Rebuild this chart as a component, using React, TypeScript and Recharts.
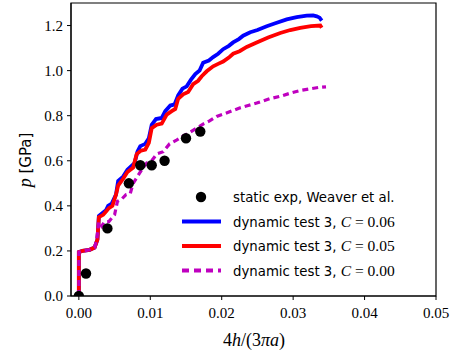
import { ComposedChart, Line, Scatter, XAxis, YAxis, ReferenceArea } from "recharts";

const xTicks = [0, 0.01, 0.02, 0.03, 0.04, 0.05];
const yTicks = [0, 0.2, 0.4, 0.6, 0.8, 1.0, 1.2];

const staticX = [0, 0.001, 0.004, 0.007, 0.0086, 0.0102, 0.012, 0.015, 0.017];
const staticY = [0, 0.1, 0.3, 0.5, 0.58, 0.58, 0.6, 0.7, 0.73];

const c006X = [0, 0, 0.0005, 0.0015, 0.0022, 0.0026, 0.0028, 0.0034, 0.0038, 0.0041, 0.0046, 0.0052, 0.0055, 0.0062, 0.0068, 0.0078, 0.0082, 0.0086, 0.0093, 0.0098, 0.0102, 0.0108, 0.0116, 0.0121, 0.0128, 0.0134, 0.0139, 0.0145, 0.0151, 0.0157, 0.0163, 0.0169, 0.0174, 0.0182, 0.0188, 0.0195, 0.0202, 0.021, 0.0216, 0.0224, 0.023, 0.024, 0.025, 0.0263, 0.0275, 0.0291, 0.0305, 0.0319, 0.0328, 0.0333, 0.0337, 0.034];
const c006Y = [0, 0.195, 0.2, 0.205, 0.215, 0.25, 0.355, 0.37, 0.38, 0.4, 0.41, 0.45, 0.51, 0.53, 0.56, 0.59, 0.64, 0.665, 0.675, 0.7, 0.76, 0.785, 0.79, 0.82, 0.845, 0.85, 0.89, 0.92, 0.93, 0.96, 0.985, 1.0, 1.035, 1.045, 1.06, 1.075, 1.095, 1.11, 1.125, 1.14, 1.155, 1.17, 1.18, 1.197, 1.21, 1.227, 1.237, 1.244, 1.245, 1.241, 1.235, 1.222];

const c005X = [0, 0, 0.0005, 0.0015, 0.0022, 0.0026, 0.0028, 0.0034, 0.0038, 0.0042, 0.0047, 0.0052, 0.0055, 0.0062, 0.0068, 0.0076, 0.0081, 0.0087, 0.0093, 0.0098, 0.0102, 0.0109, 0.0116, 0.0123, 0.013, 0.0135, 0.0139, 0.0146, 0.0153, 0.016, 0.0167, 0.0172, 0.0179, 0.0188, 0.0195, 0.0202, 0.021, 0.0216, 0.0225, 0.0235, 0.0249, 0.0265, 0.0282, 0.0296, 0.031, 0.0325, 0.0338, 0.034];
const c005Y = [0, 0.195, 0.2, 0.205, 0.215, 0.25, 0.35, 0.36, 0.375, 0.39, 0.4, 0.45, 0.49, 0.52, 0.55, 0.57, 0.63, 0.645, 0.65, 0.68, 0.745, 0.76, 0.765, 0.805, 0.82, 0.83, 0.875, 0.895, 0.905, 0.94, 0.955, 0.975, 0.997, 1.019, 1.03, 1.04, 1.058, 1.075, 1.086, 1.105, 1.125, 1.147, 1.167, 1.18, 1.19, 1.197, 1.2, 1.19];

const c000X = [0, 0, 0.0005, 0.0015, 0.0022, 0.0025, 0.0028, 0.0032, 0.0036, 0.0042, 0.0046, 0.005, 0.0054, 0.006, 0.0066, 0.0072, 0.0076, 0.0082, 0.0088, 0.0095, 0.0102, 0.0109, 0.0118, 0.0127, 0.0136, 0.0146, 0.0155, 0.0165, 0.0175, 0.0183, 0.0193, 0.0205, 0.0215, 0.0225, 0.0237, 0.0249, 0.0267, 0.0282, 0.0298, 0.031, 0.0325, 0.0335, 0.0346];
const c000Y = [0, 0.195, 0.2, 0.205, 0.215, 0.25, 0.33, 0.31, 0.33, 0.33, 0.345, 0.36, 0.42, 0.43, 0.45, 0.455, 0.5, 0.53, 0.56, 0.59, 0.6, 0.63, 0.64, 0.675, 0.69, 0.71, 0.725, 0.745, 0.765, 0.777, 0.797, 0.81, 0.822, 0.834, 0.845, 0.856, 0.875, 0.886, 0.902, 0.912, 0.92, 0.925, 0.928];

const zip = (xs: number[], ys: number[]) => xs.map((x, i) => ({ x, y: ys[i] }));

const staticData = zip(staticX, staticY);
const c006Data = zip(c006X, c006Y);
const c005Data = zip(c005X, c005Y);
const c000Data = zip(c000X, c000Y);

const serif = "'Liberation Serif', serif";
const sans = "'DejaVu Sans', sans-serif";

const legendRows = [
  { kind: "dot", color: "#000", text: "static exp, Weaver et al.", c: "" },
  { kind: "line", color: "#0000ff", text: "dynamic test 3, ", c: "0.06" },
  { kind: "line", color: "#ff0000", text: "dynamic test 3, ", c: "0.05" },
  { kind: "dash", color: "#bf00bf", text: "dynamic test 3, ", c: "0.00" },
];

function LegendBox() {
  return (
    <svg width={250} height={100} style={{ position: "absolute", left: 180, top: 185 }}>
      {legendRows.map((r, i) => {
        const cy = 12 + i * 24.5;
        return (
          <g key={i}>
            {r.kind === "dot" && <circle cx={21} cy={cy} r={5.2} fill={r.color} />}
            {r.kind !== "dot" && (
              <line x1={2} x2={41} y1={cy} y2={cy} stroke={r.color} strokeWidth={3.8}
                strokeDasharray={r.kind === "dash" ? "7 5" : undefined} />
            )}
            <text x={53} y={cy + 5} fontFamily={sans} fontSize={13.3} fill="#000">
              {r.text}
              {r.c && (
                <>
                  <tspan fontFamily={serif} fontStyle="italic" fontSize={15.5}>C</tspan>
                  <tspan fontFamily={serif} fontSize={15.5}> = {r.c}</tspan>
                </>
              )}
            </text>
          </g>
        );
      })}
    </svg>
  );
}

export default function App() {
  return (
    <div style={{ position: "absolute", left: 0, top: 0, width: 453, height: 358, background: "#fff" }}>
      <ComposedChart width={453} height={358} margin={{ top: 3, right: 17, left: 0, bottom: 0 }}>
        <XAxis
          type="number"
          dataKey="x"
          domain={[-0.0011, 0.05]}
          ticks={xTicks}
          allowDataOverflow
          tickFormatter={(v: number) => v.toFixed(2)}
          tick={{ fontFamily: serif, fontSize: 15, fill: "#000" }}
          tickSize={4}
          tickMargin={7}
          height={62}
          stroke="#000"
          label={{
            content: () => (
              <text x={254} y={346} textAnchor="middle" fontFamily={serif} fontSize={18} fill="#000">
                4<tspan fontStyle="italic">h</tspan>/(3<tspan fontStyle="italic">πa</tspan>)
              </text>
            ),
          }}
        />
        <YAxis
          type="number"
          dataKey="y"
          domain={[0, 1.3]}
          ticks={yTicks}
          allowDataOverflow
          tickFormatter={(v: number) => v.toFixed(1)}
          tick={{ fontFamily: serif, fontSize: 15, fill: "#000" }}
          tickSize={4}
          tickMargin={4}
          width={71}
          stroke="#000"
          label={{
            content: () => (
              <text transform="translate(31,160) rotate(-90)" textAnchor="middle" fill="#000" fontFamily={sans} fontSize={15}>
                <tspan fontFamily={serif} fontStyle="italic" fontSize={18}>p</tspan> [GPa]
              </text>
            ),
          }}
        />
        <ReferenceArea x1={-0.0011} x2={0.05} y1={0} y2={1.3} fill="none" stroke="#000" strokeWidth={1.2} />
        <Scatter data={staticData} dataKey="y" fill="#000" shape={(p: any) => <circle cx={p.cx} cy={p.cy} r={5.2} fill="#000" />} isAnimationActive={false} />
        <Line data={c006Data} dataKey="y" type="linear" stroke="#0000ff" strokeWidth={3.8} dot={false} isAnimationActive={false} />
        <Line data={c005Data} dataKey="y" type="linear" stroke="#ff0000" strokeWidth={3.8} dot={false} isAnimationActive={false} />
        <Line data={c000Data} dataKey="y" type="linear" stroke="#bf00bf" strokeWidth={3.2} strokeDasharray="6 4" dot={false} isAnimationActive={false} />
      </ComposedChart>
      <LegendBox />
    </div>
  );
}
